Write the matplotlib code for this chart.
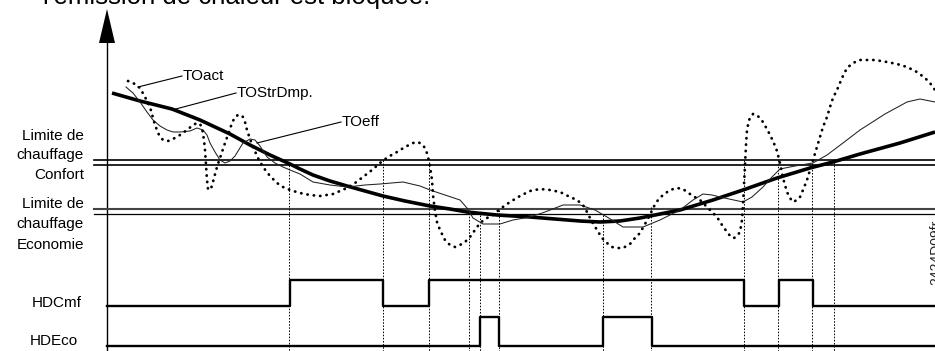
import matplotlib
matplotlib.use("Agg")
import matplotlib.pyplot as plt

plt.rcParams['font.family'] = ['Liberation Sans', 'DejaVu Sans']

# --- curve readings (pixel space of the original drawing, y grows downward) ---
# TOStrDmp. : strongly damped outside temperature (thick line)
strdmp_x = [112, 140, 172, 200, 230, 250, 270, 290, 300, 313, 330, 347, 365, 383, 405,
            430, 450, 467, 497, 530, 555, 580, 600, 620, 640, 660, 680, 713, 743, 777,
            810, 833, 860, 900, 935]
strdmp_y = [93, 101, 109, 120, 134, 145, 155, 164, 169, 175, 181, 186, 191, 196, 201,
            206, 209, 212, 215, 217, 219, 221, 222, 221, 218, 214, 210, 200, 190, 178,
            168, 162, 154, 143, 132]

# TOeff : effective outside temperature (thin line)
eff_x = [126, 133, 140, 147, 153, 160, 167, 173, 180, 190, 197, 203, 207, 210, 215, 220,
         225, 230, 235, 243, 250, 255, 260, 267, 275, 283, 290, 300, 313, 330, 347, 365,
         380, 403, 420, 430, 445, 460, 467, 473, 483, 500, 513, 530, 545, 563, 580, 595,
         607, 623, 643, 660, 670, 680, 693, 703, 712, 720, 743, 752, 763, 772, 780, 795,
         813, 827, 843, 860, 885, 907, 920, 935]
eff_y = [87, 93, 102, 112, 120, 126, 130, 132, 132, 131, 128, 130, 135, 143, 152, 160,
         163, 161, 156, 143, 139, 140, 146, 157, 163, 167, 170, 174, 182, 185, 187, 185,
         184, 182, 186, 190, 195, 200, 208, 218, 224, 224, 220, 217, 212, 205, 205, 210,
         217, 227, 227, 220, 215, 210, 200, 194, 195, 197, 202, 197, 187, 177, 169, 166,
         163, 155, 143, 130, 114, 102, 99, 102]

# TOact : actual outside temperature (dotted line)
act_x = [128, 135, 140, 145, 150, 155, 159, 163, 168, 173, 180, 187, 193, 197, 200, 202,
         204, 205, 206, 207, 208, 210, 212, 214, 217, 221, 225, 229, 232, 235, 238, 241,
         243, 245, 247, 250, 253, 258, 263, 270, 277, 283, 290, 300, 310, 320, 333, 347,
         355, 363, 372, 380, 388, 397, 405, 413, 418, 423, 426, 428, 430, 432, 433, 435,
         437, 440, 445, 450, 455, 460, 465, 470, 475, 480, 487, 493, 500, 510, 520, 530,
         540, 550, 560, 570, 577, 583, 587, 591, 597, 602, 607, 612, 617, 623, 630, 635,
         640, 645, 650, 653, 658, 663, 670, 677, 683, 687, 693, 700, 707, 713, 717, 722,
         727, 731, 734, 737, 740, 742, 743, 744, 745, 746, 747, 749, 753, 757, 763, 768,
         773, 777, 780, 783, 787, 790, 793, 797, 800, 803, 807, 810, 813, 817, 820, 823,
         827, 830, 833, 837, 842, 847, 853, 860, 867, 875, 887, 897, 907, 917, 925, 930, 935]
act_y = [81, 84, 88, 97, 107, 125, 135, 140, 141, 139, 135, 130, 125, 123, 124, 128,
         140, 150, 165, 180, 189, 190, 186, 178, 167, 155, 143, 132, 123, 117, 115, 115,
         117, 122, 130, 139, 147, 158, 167, 176, 183, 187, 190, 193, 195, 196, 194, 188,
         183, 177, 170, 163, 157, 152, 147, 143, 142, 145, 150, 157, 166, 180, 195, 211,
         222, 230, 240, 245, 247, 245, 242, 237, 230, 223, 218, 215, 209, 202, 196, 191,
         189, 190, 192, 197, 200, 205, 212, 220, 230, 238, 243, 247, 248, 248, 244, 238,
         233, 224, 215, 208, 200, 195, 190, 188, 189, 192, 196, 200, 207, 213, 217, 225,
         232, 237, 238, 236, 232, 220, 205, 185, 165, 145, 130, 120, 114, 115, 122, 131,
         141, 151, 163, 178, 192, 198, 202, 200, 197, 190, 180, 170, 160, 147, 137, 127,
         117, 107, 98, 90, 78, 68, 63, 60, 60, 60, 62, 64, 67, 72, 78, 83, 90]

# switching signals
hdcmf_t = [107, 290, 383, 429, 744, 779, 813, 935]
hdcmf_s = [0, 1, 0, 1, 0, 1, 0, 0]
hdeco_t = [107, 480, 499, 603, 652, 935]
hdeco_s = [0, 1, 0, 1, 0, 0]

# dotted marker lines (x, top end)
marker_x = [289, 383, 429, 469, 480, 499, 603, 651, 744, 778, 812, 834]
marker_top = [165, 160, 162, 210, 215, 210, 215, 207, 160, 160, 160, 162]


def main():
    fig = plt.figure(figsize=(9.35, 3.51), dpi=100)
    ax = fig.add_axes([0, 0, 1, 1])
    ax.set_xlim(0, 935)
    ax.set_ylim(351, 0)
    ax.axis('off')

    # title fragment cut at the top (as in the source drawing)
    ax.text(43, 4, "l'émission de chaleur est bloquée.", fontsize=18.5,
            ha='left', va='baseline', color='black')

    # vertical axis with arrow
    ax.plot([107, 107], [43, 351], color='black', lw=1.0)
    ax.fill([99, 115, 107], [43, 43, 9], color='black', lw=0)

    # heating limits
    ax.plot([94, 935], [160, 160], color='black', lw=1.2)
    ax.plot([94, 935], [165, 165], color='black', lw=1.2)
    ax.plot([94, 935], [209, 209], color='#444444', lw=1.5)
    ax.plot([94, 935], [214, 214], color='black', lw=0.9)

    # marker lines
    for x, top in zip(marker_x, marker_top):
        ax.plot([x, x], [top, 351], color='black', lw=0.7, linestyle=(0, (1.6, 1.6)))

    # curves
    ax.plot(strdmp_x, strdmp_y, color='black', lw=2.6, solid_capstyle='butt',
            solid_joinstyle='round')
    ax.plot(eff_x, eff_y, color='#222222', lw=0.75)
    ax.plot(act_x, act_y, color='black', lw=2.0, linestyle=(0, (0.1, 2.2)),
            dash_capstyle='round')

    # signals
    ax.step(hdcmf_t, [306 - 26 * s for s in hdcmf_s], where='post', color='black', lw=1.7)
    ax.step(hdeco_t, [346 - 29 * s for s in hdeco_s], where='post', color='black', lw=1.7)

    # left labels
    lab = dict(fontsize=11, ha='right', va='center', color='black')
    ax.text(84, 136, "Limite de", **lab)
    ax.text(84, 155, "chauffage", **lab)
    ax.text(84, 175, "Confort", **lab)
    ax.text(84, 204, "Limite de", **lab)
    ax.text(84, 224, "chauffage", **lab)
    ax.text(84, 245, "Economie", **lab)
    ax.text(82, 303, "HDCmf", **lab)
    ax.text(78, 341, "HDEco", **lab)

    # curve annotations
    ax.plot([182, 138], [76, 87], color='black', lw=0.8)
    ax.text(183, 76, "TOact", fontsize=11, ha='left', va='center')
    ax.plot([236, 172], [93, 110], color='black', lw=0.8)
    ax.text(237, 93, "TOStrDmp.", fontsize=11, ha='left', va='center')
    ax.plot([341, 257], [122, 143], color='black', lw=0.8)
    ax.text(342, 122, "TOeff", fontsize=11, ha='left', va='center')

    # figure reference, cut at the right edge (as in the source drawing)
    ax.text(929, 252, "2424D09fr", fontsize=10, rotation=90, ha='left', va='center',
            color='#222222')

    fig.savefig('out.png', dpi=100)


if __name__ == "__main__":
    main()
